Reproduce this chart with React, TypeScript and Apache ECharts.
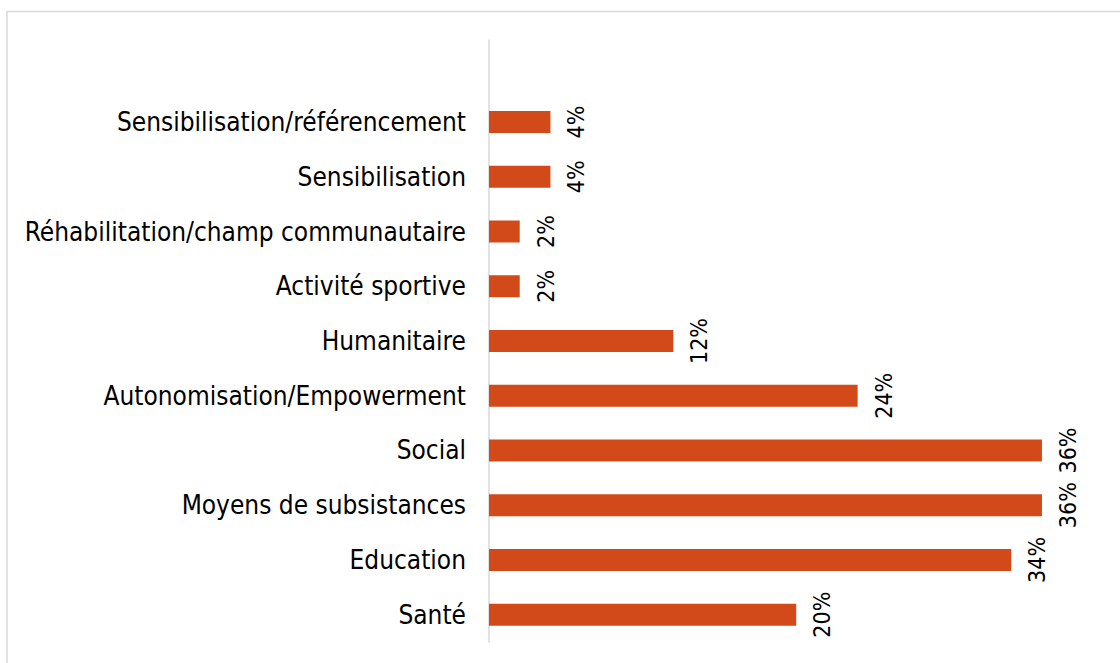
import React, { useEffect, useRef } from "react";
import * as echarts from "echarts";

const categories = [
  "Santé",
  "Education",
  "Moyens de subsistances",
  "Social",
  "Autonomisation/Empowerment",
  "Humanitaire",
  "Activité sportive",
  "Réhabilitation/champ communautaire",
  "Sensibilisation",
  "Sensibilisation/référencement",
];
const values = [20, 34, 36, 36, 24, 12, 2, 2, 4, 4];

const FONT = "'DejaVu Sans Condensed', 'DejaVu Sans'";

export default function App() {
  const ref = useRef<HTMLDivElement>(null);
  useEffect(() => {
    if (!ref.current) return;
    const chart = echarts.init(ref.current, undefined, { renderer: "svg" });
    chart.setOption({
      animation: false,
      backgroundColor: "#ffffff",
      graphic: [
        {
          type: "rect",
          shape: { x: 7, y: 11.5, width: 1200, height: 700 },
          style: { fill: "none", stroke: "#d9d9d9", lineWidth: 1.5 },
          silent: true,
        },
      ],
      grid: { left: 489, top: 40, width: 614.4, height: 602, containLabel: false },
      xAxis: {
        type: "value",
        min: 0,
        max: 40,
        show: false,
        splitLine: { show: false },
      },
      yAxis: {
        type: "category",
        data: [...categories, ""],
        axisLine: { show: true, lineStyle: { color: "#d9d9d9", width: 1.5 } },
        axisTick: { show: false },
        axisLabel: {
          color: "#000000",
          fontFamily: FONT,
          fontSize: 26,
          margin: 23,
        },
        splitLine: { show: false },
      },
      series: [
        {
          type: "bar",
          data: values,
          barWidth: 22,
          itemStyle: { color: "#D34A1A" },
          label: {
            show: true,
            position: "right",
            distance: 26,
            rotate: 90,
            align: "center",
            verticalAlign: "middle",
            formatter: "{c}%",
            color: "#000000",
            fontFamily: FONT,
            fontSize: 23,
          },
        },
      ],
    });
    return () => chart.dispose();
  }, []);
  return (
    <div
      ref={ref}
      style={{ position: "fixed", left: 0, top: 0, width: 1120, height: 663 }}
    />
  );
}
